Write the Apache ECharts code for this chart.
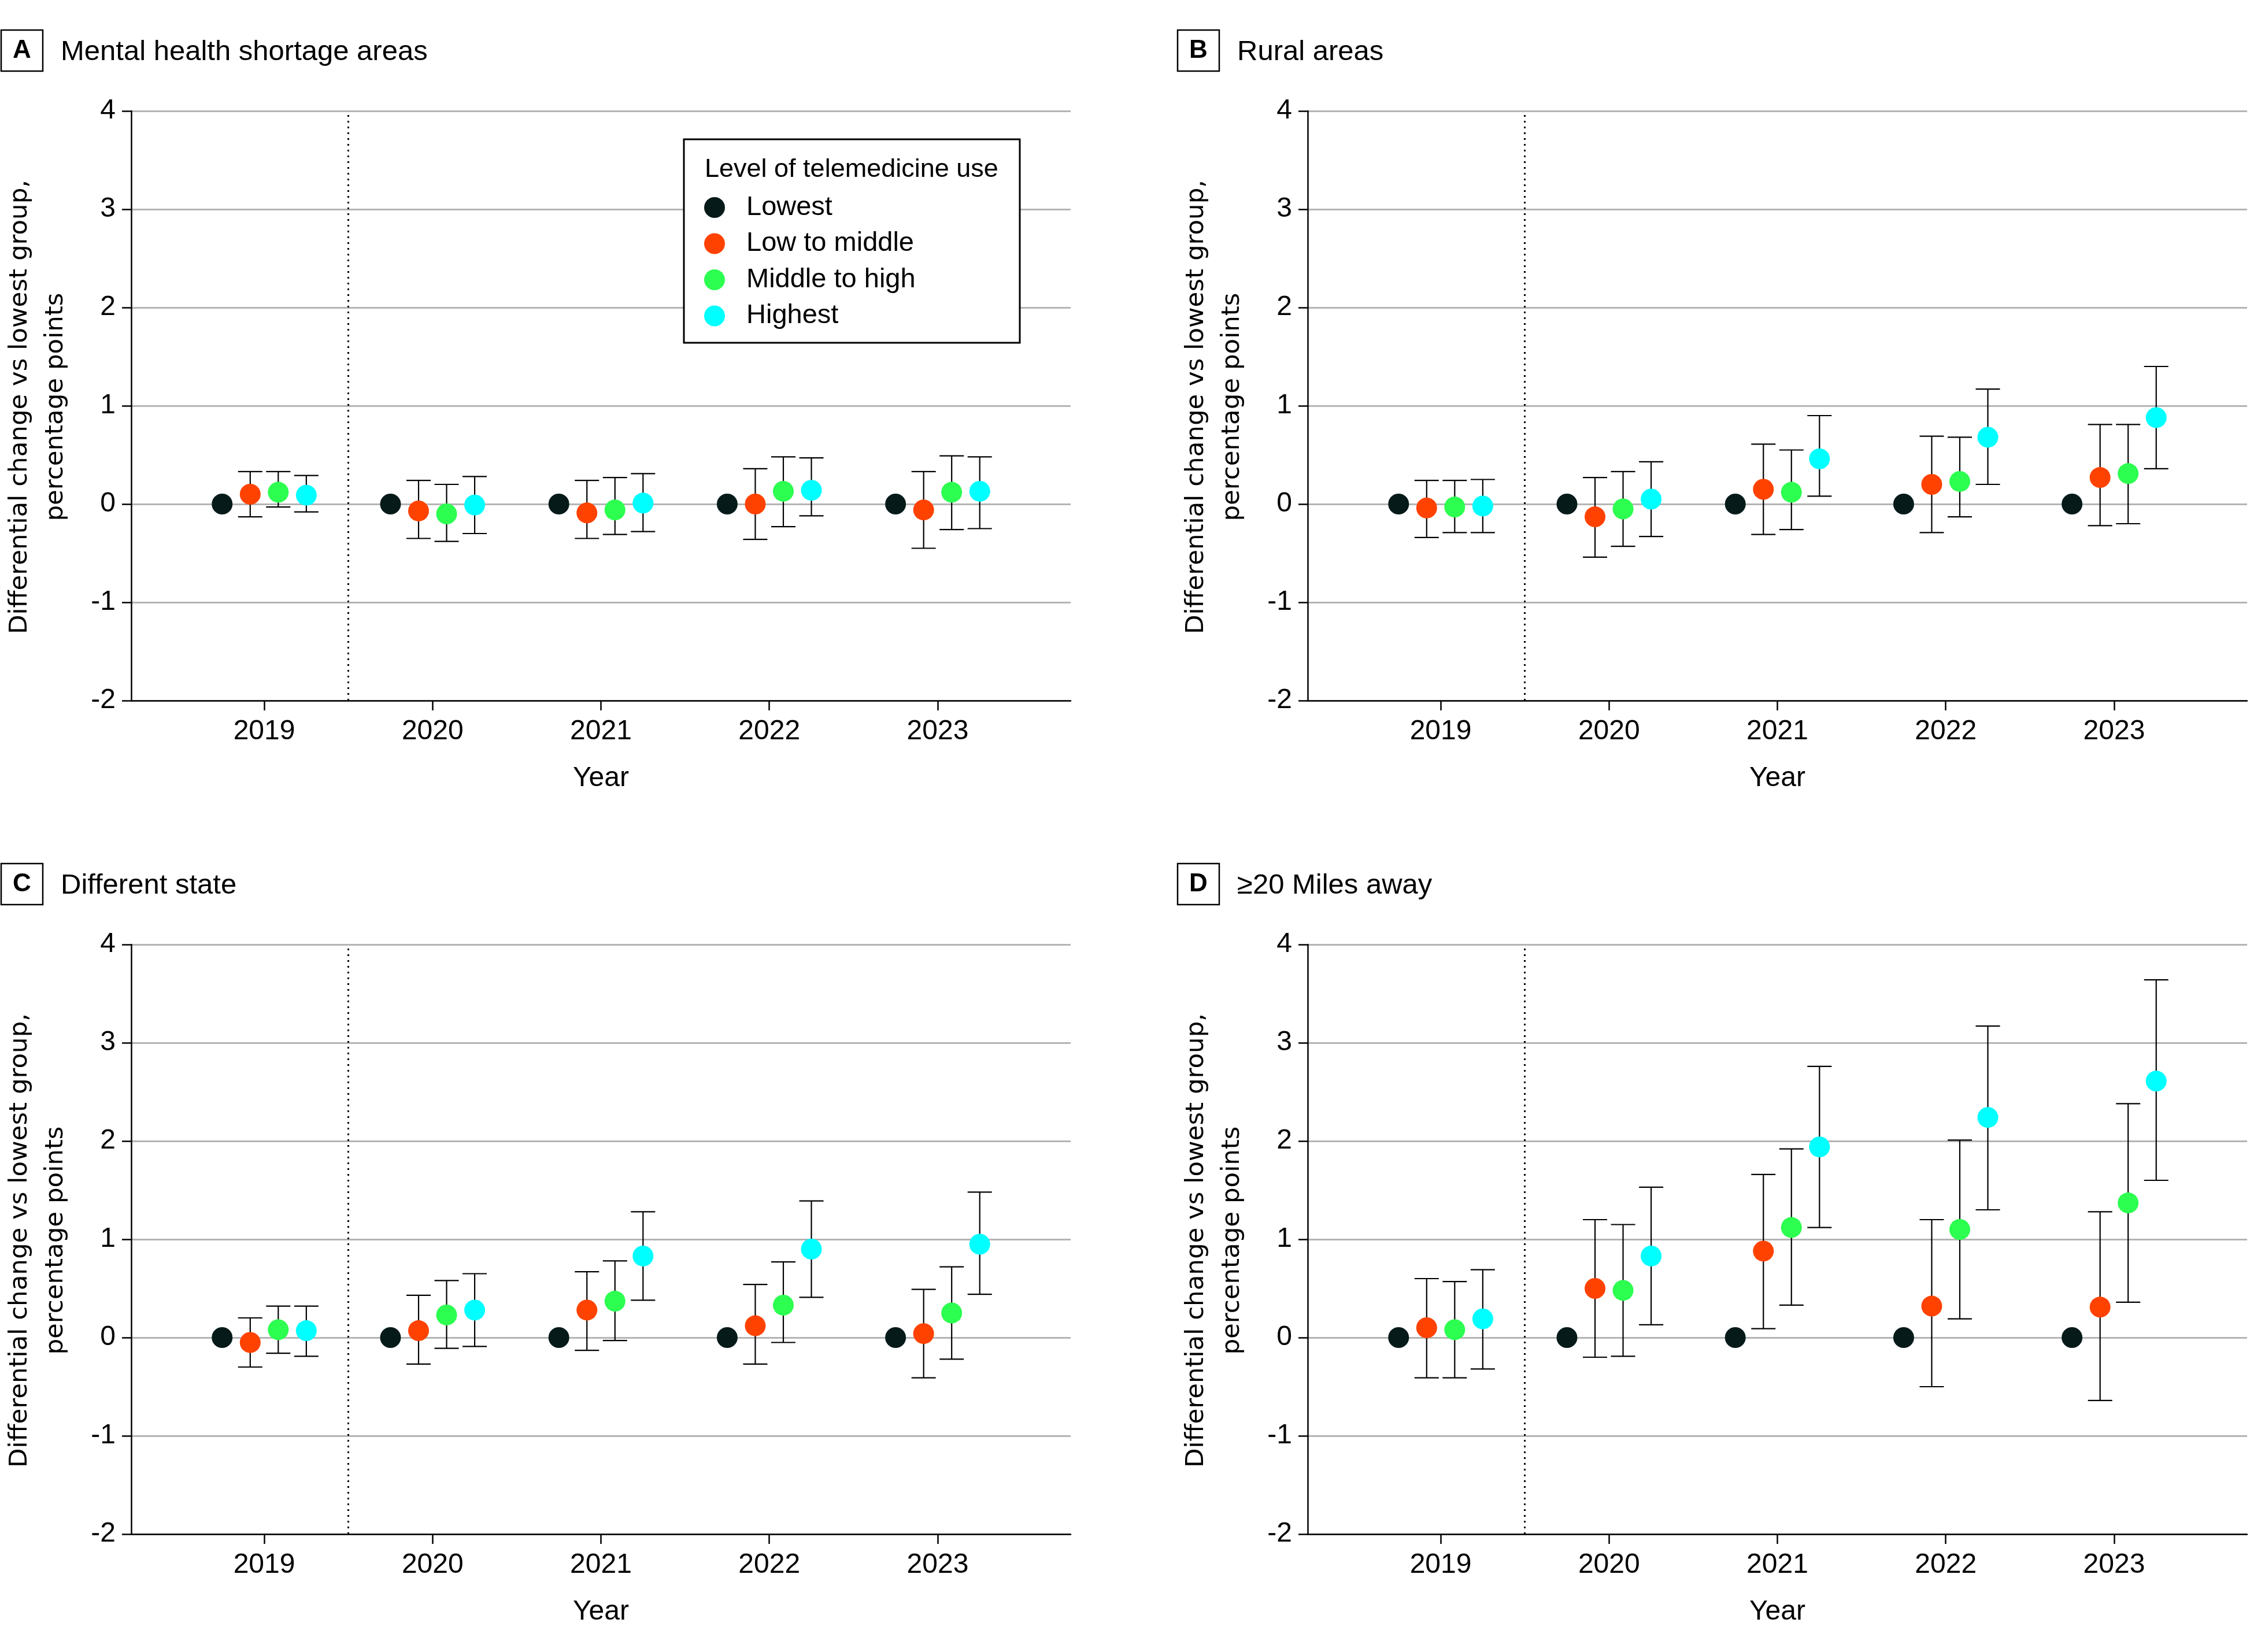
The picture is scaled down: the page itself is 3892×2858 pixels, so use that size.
<!DOCTYPE html>
<html>
<head>
<meta charset="utf-8">
<script src="https://cdn.jsdelivr.net/npm/echarts@6/dist/echarts.min.js"></script>
<style>
html,body{margin:0;padding:0;background:#fff;}
#chart{width:3892px;height:2858px;}
</style>
</head>
<body>
<div id="chart"></div>
<script>
// ---------- data ----------
const years = [2019, 2020, 2021, 2022, 2023];
const groups = ['Lowest', 'Low to middle', 'Middle to high', 'Highest'];
const panelLetters = ['A', 'B', 'C', 'D'];
const panelTitles = ['Mental health shortage areas', 'Rural areas', 'Different state', '\u226520 Miles away'];
const yTicks = [-2, -1, 0, 1, 2, 3, 4];

// Lowest group is the reference (0) in every panel
const lowestEst = [0, 0, 0, 0, 0];

// Panel A: Mental health shortage areas
const aLowMidEst = [0.10, -0.07, -0.09, 0.00, -0.06];
const aLowMidLo  = [-0.13, -0.35, -0.35, -0.36, -0.45];
const aLowMidHi  = [0.33, 0.24, 0.24, 0.36, 0.33];
const aMidHighEst = [0.12, -0.10, -0.06, 0.13, 0.12];
const aMidHighLo  = [-0.03, -0.38, -0.31, -0.23, -0.26];
const aMidHighHi  = [0.33, 0.20, 0.27, 0.48, 0.49];
const aHighEst = [0.09, -0.01, 0.01, 0.14, 0.13];
const aHighLo  = [-0.08, -0.30, -0.28, -0.12, -0.25];
const aHighHi  = [0.29, 0.28, 0.31, 0.47, 0.48];

// Panel B: Rural areas
const bLowMidEst = [-0.04, -0.13, 0.15, 0.20, 0.27];
const bLowMidLo  = [-0.34, -0.54, -0.31, -0.29, -0.22];
const bLowMidHi  = [0.24, 0.27, 0.61, 0.69, 0.81];
const bMidHighEst = [-0.03, -0.05, 0.12, 0.23, 0.31];
const bMidHighLo  = [-0.29, -0.43, -0.26, -0.13, -0.20];
const bMidHighHi  = [0.24, 0.33, 0.55, 0.68, 0.81];
const bHighEst = [-0.02, 0.05, 0.46, 0.68, 0.88];
const bHighLo  = [-0.29, -0.33, 0.08, 0.20, 0.36];
const bHighHi  = [0.25, 0.43, 0.90, 1.17, 1.40];

// Panel C: Different state
const cLowMidEst = [-0.05, 0.07, 0.28, 0.12, 0.04];
const cLowMidLo  = [-0.30, -0.27, -0.13, -0.27, -0.41];
const cLowMidHi  = [0.20, 0.43, 0.67, 0.54, 0.49];
const cMidHighEst = [0.08, 0.23, 0.37, 0.33, 0.25];
const cMidHighLo  = [-0.16, -0.11, -0.03, -0.05, -0.22];
const cMidHighHi  = [0.32, 0.58, 0.78, 0.77, 0.72];
const cHighEst = [0.07, 0.28, 0.83, 0.90, 0.95];
const cHighLo  = [-0.19, -0.09, 0.38, 0.41, 0.44];
const cHighHi  = [0.32, 0.65, 1.28, 1.39, 1.48];

// Panel D: >=20 Miles away
const dLowMidEst = [0.10, 0.50, 0.88, 0.32, 0.31];
const dLowMidLo  = [-0.41, -0.20, 0.09, -0.50, -0.64];
const dLowMidHi  = [0.60, 1.20, 1.66, 1.20, 1.28];
const dMidHighEst = [0.08, 0.48, 1.12, 1.10, 1.37];
const dMidHighLo  = [-0.41, -0.19, 0.33, 0.19, 0.36];
const dMidHighHi  = [0.57, 1.15, 1.92, 2.01, 2.38];
const dHighEst = [0.19, 0.83, 1.94, 2.24, 2.61];
const dHighLo  = [-0.32, 0.13, 1.12, 1.30, 1.60];
const dHighHi  = [0.69, 1.53, 2.76, 3.17, 3.64];

// ---------- assembly ----------
const panels = [
  { est: [lowestEst, aLowMidEst, aMidHighEst, aHighEst], lo: [null, aLowMidLo, aMidHighLo, aHighLo], hi: [null, aLowMidHi, aMidHighHi, aHighHi] },
  { est: [lowestEst, bLowMidEst, bMidHighEst, bHighEst], lo: [null, bLowMidLo, bMidHighLo, bHighLo], hi: [null, bLowMidHi, bMidHighHi, bHighHi] },
  { est: [lowestEst, cLowMidEst, cMidHighEst, cHighEst], lo: [null, cLowMidLo, cMidHighLo, cHighLo], hi: [null, cLowMidHi, cMidHighHi, cHighHi] },
  { est: [lowestEst, dLowMidEst, dMidHighEst, dHighEst], lo: [null, dLowMidLo, dMidHighLo, dHighLo], hi: [null, dLowMidHi, dMidHighHi, dHighHi] }
];

const colors = ['#061a1a', '#ff4200', '#2cff50', '#00ffff'];
const dodge = [-0.25, -0.0833, 0.0833, 0.25];
const FONT = '"Liberation Sans", Arial, sans-serif';
const TITLE_FONT = '"DejaVu Sans", Verdana, sans-serif';

const gridLeft = [227, 2262, 227, 2262];
const gridTop = [192, 192, 1634, 1634];
const gridW = 1625, gridH = 1020;

const grids = [], xAxes = [], yAxes = [], series = [], graphics = [];

panels.forEach((p, i) => {
  grids.push({ left: gridLeft[i], top: gridTop[i], width: gridW, height: gridH, containLabel: false });
  xAxes.push({
    type: 'value', gridIndex: i, min: 2018.21, max: 2023.79,
    name: 'Year', nameLocation: 'middle', nameGap: 111,
    nameTextStyle: { fontFamily: FONT, fontSize: 48, color: '#000' },
    axisLine: { show: true, onZero: false, lineStyle: { color: '#000', width: 2.5 } },
    axisTick: { show: true, length: 17, lineStyle: { color: '#000', width: 2.5 }, customValues: years },
    axisLabel: { show: true, fontFamily: FONT, fontSize: 48, color: '#000', margin: 30, customValues: years,
                 formatter: v => String(Math.round(v)) },
    splitLine: { show: false }
  });
  yAxes.push({
    type: 'value', gridIndex: i, min: -2, max: 4, interval: 1,
    axisLine: { show: true, onZero: false, lineStyle: { color: '#000', width: 2.5 } },
    axisTick: { show: true, length: 16, lineStyle: { color: '#000', width: 2.5 } },
    axisLabel: { show: true, fontFamily: FONT, fontSize: 48, color: '#000', margin: 27 },
    splitLine: { show: true, lineStyle: { color: '#b4b4b4', width: 3 } }
  });

  // error bars (behind markers)
  for (let g = 1; g < 4; g++) {
    series.push({
      type: 'custom', xAxisIndex: i, yAxisIndex: i, z: 2, silent: true,
      data: years.map((yr, k) => [yr + dodge[g], p.lo[g][k], p.hi[g][k]]),
      encode: { x: 0, y: [1, 2] },
      renderItem: function (params, api) {
        const x = api.value(0);
        const top = api.coord([x, api.value(2)]);
        const bot = api.coord([x, api.value(1)]);
        const hw = 21;
        const st = { stroke: '#000', lineWidth: 2.2 };
        return {
          type: 'group', children: [
            { type: 'line', shape: { x1: top[0], y1: top[1], x2: bot[0], y2: bot[1] }, style: st },
            { type: 'line', shape: { x1: top[0] - hw, y1: top[1], x2: top[0] + hw, y2: top[1] }, style: st },
            { type: 'line', shape: { x1: bot[0] - hw, y1: bot[1], x2: bot[0] + hw, y2: bot[1] }, style: st }
          ]
        };
      }
    });
  }
  // point estimates
  for (let g = 0; g < 4; g++) {
    const s = {
      type: 'scatter', name: groups[g], xAxisIndex: i, yAxisIndex: i, z: 3, silent: true,
      symbol: 'circle', symbolSize: 36,
      itemStyle: { color: colors[g], opacity: 1 },
      data: years.map((yr, k) => [yr + dodge[g], p.est[g][k]])
    };
    if (g === 0) {
      s.markLine = {
        silent: true, symbol: ['none', 'none'], label: { show: false },
        lineStyle: { color: '#000', width: 3, type: [3, 7] },
        data: [{ xAxis: 2019.5 }]
      };
    }
    series.push(s);
  }

  // panel label box + title
  const bx = gridLeft[i] - 225, by = gridTop[i] - 140;
  graphics.push({ type: 'rect', z: 10, shape: { x: bx, y: by, width: 72, height: 71 },
                  style: { fill: '#fff', stroke: '#000', lineWidth: 2.5 } });
  graphics.push({ type: 'text', z: 11, x: bx + 36, y: by + 36,
                  style: { text: panelLetters[i], fontFamily: FONT, fontWeight: 'bold', fontSize: 44,
                           fill: '#000', align: 'center', verticalAlign: 'middle' } });
  graphics.push({ type: 'text', z: 11, x: bx + 103, y: by + 38,
                  style: { text: panelTitles[i], fontFamily: FONT, fontSize: 49,
                           fill: '#000', align: 'left', verticalAlign: 'middle' } });
  // y-axis title
  graphics.push({ type: 'text', z: 11, x: gridLeft[i] - 161, y: gridTop[i] + gridH / 2 + 2,
                  rotation: Math.PI / 2,
                  style: { text: 'Differential change vs lowest group,\npercentage points',
                           fontFamily: TITLE_FONT, fontSize: 43.5, lineHeight: 62,
                           fill: '#000', align: 'center', verticalAlign: 'middle' } });
});

// legend box + title (panel A)
graphics.push({ type: 'rect', z: 3, shape: { x: 1183, y: 241, width: 581, height: 352 },
                style: { fill: '#fff', stroke: '#000', lineWidth: 3 } });
graphics.push({ type: 'text', z: 5, x: 1219, y: 294,
                style: { text: 'Level of telemedicine use', fontFamily: FONT, fontSize: 45,
                         fill: '#000', align: 'left', verticalAlign: 'middle' } });

const option = {
  animation: false,
  backgroundColor: '#fff',
  grid: grids,
  xAxis: xAxes,
  yAxis: yAxes,
  series: series,
  legend: {
    show: true, orient: 'vertical', left: 1218, top: 335, padding: 0,
    icon: 'circle', itemWidth: 100, itemHeight: 36, itemGap: 14.5,
    selectedMode: false, z: 6,
    textStyle: { fontFamily: FONT, fontSize: 47, lineHeight: 48, color: '#000' },
    data: groups
  },
  graphic: graphics
};

const chart = echarts.init(document.getElementById('chart'), null, { renderer: 'canvas', width: 3892, height: 2858 });
chart.setOption(option);
</script>
</body>
</html>
